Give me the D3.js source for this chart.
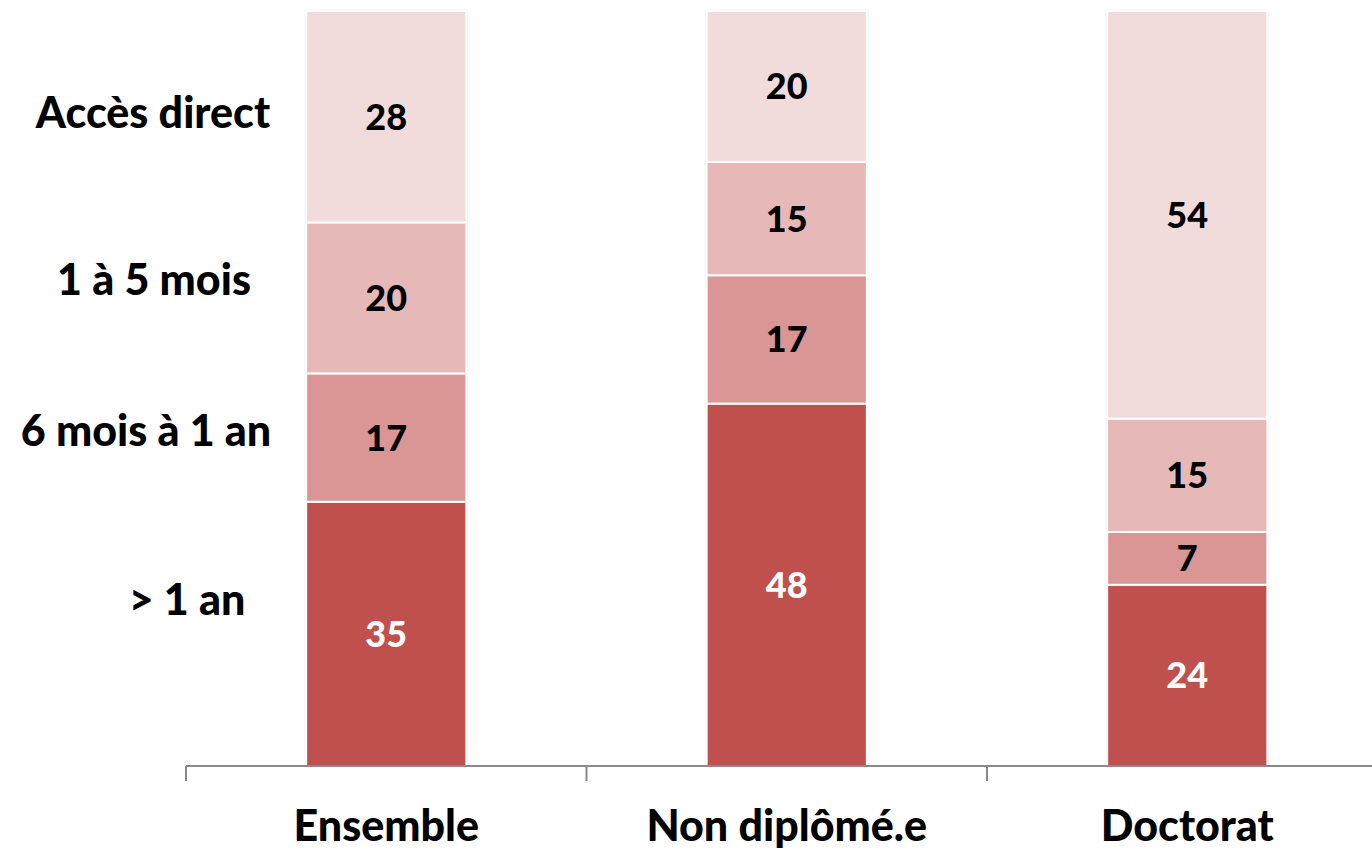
<!DOCTYPE html>
<html>
<head>
<meta charset="utf-8">
<script src="https://cdn.jsdelivr.net/npm/d3@7"></script>
<style>
  body { margin: 0; background: #fff; }
  text { font-family: Lato, "Open Sans", sans-serif; font-weight: 900; }
</style>
</head>
<body>
<script>
var categories = ["Ensemble", "Non diplômé.e", "Doctorat"];
var seriesNames = ["> 1 an", "6 mois à 1 an", "1 à 5 mois", "Accès direct"];
var plusUnAn = [35, 48, 24];
var sixMoisUnAn = [17, 17, 7];
var unCinqMois = [20, 15, 15];
var accesDirect = [28, 20, 54];
var seriesColors = ["#C0504D", "#D99694", "#E6B9B8", "#F2DCDB"];
var labelColors = ["#fff", "#000", "#000", "#000"];

// legend-like labels on the left (x centre, y in value units)
var sideLabels = [
  { text: "Accès direct", cx: 153, v: 86.5 },
  { text: "1 à 5 mois", cx: 154, v: 64.5 },
  { text: "6 mois à 1 an", cx: 146, v: 44.5 },
  { text: "> 1 an", cx: 187, v: 22 }
];

var totalWidth = 1372;
var totalHeight = 851;
var axisLeft = 186, axisRight = 1390;
var axisY = 766, topY = 11;

var rows = categories.map(function(c, i) {
  return { cat: c, s0: plusUnAn[i], s1: sixMoisUnAn[i], s2: unCinqMois[i], s3: accesDirect[i] };
});
var stack = d3.stack().keys(["s0", "s1", "s2", "s3"])(rows);

var scaleX = d3.scaleBand()
  .domain(categories)
  .range([axisLeft, axisLeft + 3 * 400.5])
  .paddingInner(0.6)
  .paddingOuter(0.3);

var scaleY = d3.scaleLinear()
  .domain([0, 100])
  .range([axisY, topY]);

var svg = d3.select("body").append("svg")
  .attr("width", totalWidth)
  .attr("height", totalHeight);

// bar shadow outline
svg.append("defs").append("filter").attr("id", "sh")
  .attr("x", "-10%").attr("y", "-5%").attr("width", "120%").attr("height", "110%")
  .append("feDropShadow").attr("dx", 0).attr("dy", 0).attr("stdDeviation", 1.2)
  .attr("flood-color", "#000").attr("flood-opacity", 0.35);

var barsG = svg.append("g");
barsG.selectAll("rect.bg")
  .data(categories)
  .enter().append("rect")
  .attr("x", function(d) { return scaleX(d); })
  .attr("y", scaleY(100))
  .attr("width", scaleX.bandwidth())
  .attr("height", scaleY(0) - scaleY(100))
  .attr("fill", "#fff")
  .attr("filter", "url(#sh)");

stack.forEach(function(layer, li) {
  var g = svg.append("g");
  g.selectAll("rect")
    .data(layer)
    .enter().append("rect")
    .attr("x", function(d) { return scaleX(d.data.cat); })
    .attr("y", function(d) { return scaleY(d[1]); })
    .attr("width", scaleX.bandwidth())
    .attr("height", function(d) { return scaleY(d[0]) - scaleY(d[1]); })
    .attr("fill", seriesColors[li])
    .attr("stroke", "#fff")
    .attr("stroke-width", 2);
  g.selectAll("text")
    .data(layer)
    .enter().append("text")
    .attr("x", function(d) { return scaleX(d.data.cat) + scaleX.bandwidth() / 2; })
    .attr("y", function(d) { return (scaleY(d[0]) + scaleY(d[1])) / 2; })
    .attr("dy", "0.36em")
    .attr("text-anchor", "middle")
    .attr("fill", labelColors[li])
    .style("font-size", "36px")
    .text(function(d) { return d[1] - d[0]; });
});

// axis
var axisG = svg.append("g");
axisG.append("line")
  .attr("x1", axisLeft).attr("x2", axisRight)
  .attr("y1", axisY).attr("y2", axisY)
  .attr("stroke", "#898989").attr("stroke-width", 2);
var tickPos = categories.map(function(c) { return scaleX(c) - scaleX.step() * scaleX.paddingInner() / 2; });
tickPos.push(axisLeft + 3 * 400.5);
axisG.selectAll("line.tick")
  .data(tickPos)
  .enter().append("line")
  .attr("x1", function(d) { return d; }).attr("x2", function(d) { return d; })
  .attr("y1", axisY).attr("y2", axisY + 15)
  .attr("stroke", "#898989").attr("stroke-width", 2);

svg.selectAll("text.cat")
  .data(categories)
  .enter().append("text")
  .attr("x", function(d) { return scaleX(d) + scaleX.bandwidth() / 2; })
  .attr("y", 841)
  .attr("text-anchor", "middle")
  .attr("fill", "#000")
  .style("font-size", "43px")
  .text(function(d) { return d; });

svg.selectAll("text.side")
  .data(sideLabels)
  .enter().append("text")
  .attr("x", function(d) { return d.cx; })
  .attr("y", function(d) { return scaleY(d.v); })
  .attr("dy", "0.36em")
  .attr("text-anchor", "middle")
  .attr("fill", "#000")
  .style("font-size", "43px")
  .text(function(d) { return d.text; });
</script>
</body>
</html>
